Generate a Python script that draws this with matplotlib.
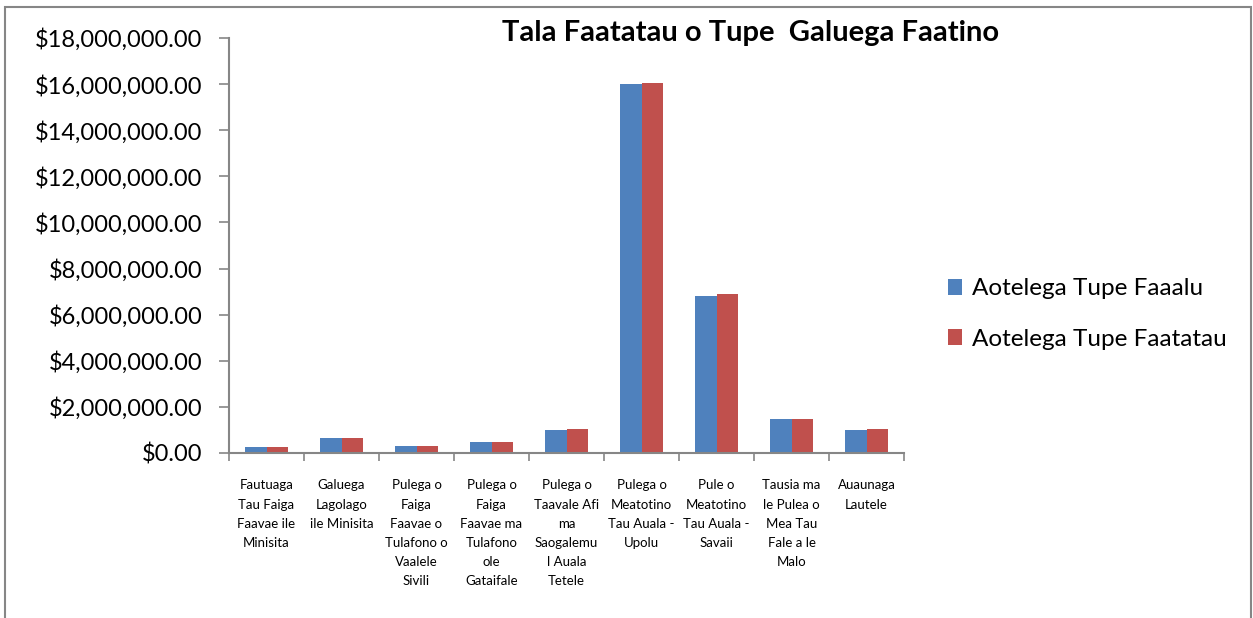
import numpy as np
import matplotlib.pyplot as plt
from matplotlib.patches import Rectangle

categories = [
    "Fautuaga\nTau Faiga\nFaavae ile\nMinisita",
    "Galuega\nLagolago\nile Minisita",
    "Pulega o\nFaiga\nFaavae o\nTulafono o\nVaalele\nSivili",
    "Pulega o\nFaiga\nFaavae ma\nTulafono\nole\nGataifale",
    "Pulega o\nTaavale Afi\nma\nSaogalemu\nl Auala\nTetele",
    "Pulega o\nMeatotino\nTau Auala -\nUpolu",
    "Pule o\nMeatotino\nTau Auala -\nSavaii",
    "Tausia ma\nle Pulea o\nMea Tau\nFale a le\nMalo",
    "Auaunaga\nLautele",
]
faaalu = [240000, 640000, 290000, 460000, 980000, 16000000, 6800000, 1470000, 1010000]
faatatau = [260000, 660000, 310000, 480000, 1040000, 16060000, 6880000, 1490000, 1050000]
series_names = ["Aotelega Tupe Faaalu", "Aotelega Tupe Faatatau"]

plt.rcParams['font.family'] = ['Lato', 'DejaVu Sans']

W, H = 1253, 618
fig = plt.figure(figsize=(W / 100, H / 100), dpi=100)
# outer chart border (bottom edge runs off the picture)
fig.patches.append(Rectangle((5 / W, -10 / H), 1246 / W, (H - 7 + 10) / H, transform=fig.transFigure,
                             fill=False, edgecolor='#868686', linewidth=1.5))
ax = fig.add_axes([229 / W, 1 - 453 / H, 675 / W, 415 / H])

x = np.arange(len(categories))
w = 0.29
ax.bar(x - w / 2, faaalu, w, color='#4F81BD', label=series_names[0])
ax.bar(x + w / 2, faatatau, w, color='#C0504D', label=series_names[1])

ax.set_xlim(-0.5, len(categories) - 0.5)
ax.set_ylim(0, 18000000)
yt = np.arange(0, 18000001, 2000000)
ax.set_yticks(yt)
ax.set_yticklabels([f"${v:,.2f}" for v in yt], fontsize=17)
ax.set_xticks(np.arange(-0.5, len(categories), 1))
ax.set_xticklabels([])
ax.set_xticks(x, minor=True)
ax.set_xticklabels(categories, minor=True, fontsize=9.5, linespacing=1.72, va='top')
ax.tick_params(axis='x', which='minor', length=0, pad=19)
ax.tick_params(axis='x', which='major', length=6, width=1.2, color='#868686')
ax.tick_params(axis='y', length=7, width=1.2, color='#868686', pad=12)

for s in ['top', 'right']:
    ax.spines[s].set_visible(False)
for s in ['left', 'bottom']:
    ax.spines[s].set_color('#868686')
    ax.spines[s].set_linewidth(1.5)

fig.text(751 / W, 1 - 33 / H, "Tala Faatatau o Tupe  Galuega Faatino", ha='center', va='center',
         fontsize=21, fontweight='bold')

fig.legend(loc='center left', bbox_to_anchor=(926 / W, 1 - 314 / H), frameon=False,
           fontsize=17.5, handlelength=0.6, handleheight=0.6, labelspacing=1.2, handletextpad=0.4)

fig.savefig('out.png', dpi=100)
